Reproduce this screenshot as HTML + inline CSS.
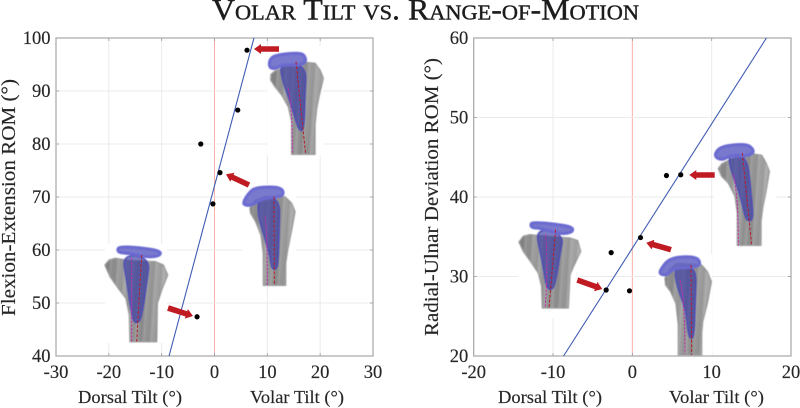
<!DOCTYPE html>
<html>
<head>
<meta charset="utf-8">
<style>
html,body{margin:0;padding:0;background:#fff;}
svg{display:block;}
text{font-family:"Liberation Serif",serif;fill:#262626;stroke:#262626;stroke-width:.15px;}
</style>
</head>
<body>
<svg id="chart" width="800" height="408" viewBox="0 0 800 408" xmlns="http://www.w3.org/2000/svg">
<defs>
<linearGradient id="boneFill" x1="0" x2="1" y1="0" y2="0">
<stop offset="0" stop-color="#7e7e7e"/><stop offset=".3" stop-color="#a0a0a0"/><stop offset=".6" stop-color="#8e8e8e"/><stop offset="1" stop-color="#acacac"/>
</linearGradient>
<pattern id="boneStreaks" width="23" height="60" patternUnits="userSpaceOnUse" patternTransform="rotate(4)">
<rect x="3" y="0" width="3" height="60" fill="#555" fill-opacity=".18"/>
<rect x="12" y="0" width="5" height="60" fill="#ddd" fill-opacity=".18"/>
</pattern>
<filter id="soft"><feGaussianBlur stdDeviation="1.5"/></filter>
</defs>
<rect width="800" height="408" fill="#fff"/>
<text x="212" y="19.5" font-size="30" textLength="427" lengthAdjust="spacingAndGlyphs" style="font-variant:small-caps;fill:#1c1c1c;stroke:#1c1c1c;stroke-width:.4px">Volar Tilt vs. Range-of-Motion</text>
<g id="left-layer"></g>
<g id="right-layer"></g>
</svg>
<script>
var SVGNS = 'http://www.w3.org/2000/svg';

// Left panel data
var leftVolarTilt = [6.15, 4.4, -2.6, 1.04, -0.3, -3.3];
var leftRom = [97.7, 86.4, 80, 74.6, 68.7, 47.4];
var leftFitX = [-8.6, 7.47];
var leftFitY = [40, 100];
var leftXTicks = [-30, -20, -10, 0, 10, 20, 30];
var leftYTicks = [40, 50, 60, 70, 80, 90, 100];

// Right panel data
var rightVolarTilt = [4.3, 6.1, 1.03, -2.67, -0.36, -3.3];
var rightRom = [42.7, 42.8, 34.9, 33.0, 28.2, 28.3];
var rightFitX = [-8.67, 16.9];
var rightFitY = [20, 60];
var rightXTicks = [-20, -10, 0, 10, 20];
var rightYTicks = [20, 30, 40, 50, 60];

function mk(tag, attrs, parent, text) {
  var el = document.createElementNS(SVGNS, tag);
  for (var k in attrs) el.setAttribute(k, attrs[k]);
  if (text !== undefined) el.textContent = text;
  parent.appendChild(el);
  return el;
}

function smooth(str) {
  var p = str.trim().split(/\s+/).map(function (s) { return s.split(',').map(Number); });
  var n = p.length, d = '';
  for (var i = 0; i < n; i++) {
    var a = p[i], b = p[(i + 1) % n];
    var mx = (a[0] + b[0]) / 2, my = (a[1] + b[1]) / 2;
    if (i === 0) {
      var z = p[n - 1];
      d += 'M' + (z[0] + a[0]) / 2 + ',' + (z[1] + a[1]) / 2;
    }
    d += ' Q' + a[0] + ',' + a[1] + ' ' + mx + ',' + my;
  }
  return d + ' Z';
}

function bone(parent, ox, oy, box, shapes) {
  var g = mk('g', {}, parent);
  
  
  mk('rect', {x: box[0], y: box[1], width: box[2], height: box[3], fill: '#fff'}, g);
  var t = mk('g', {transform: 'translate(' + ox + ' ' + oy + ') scale(0.3333)'}, g);
  var soft = mk('g', {filter: 'url(#soft)'}, t);
  mk('polygon', {points: shapes.bone, fill: 'url(#boneFill)', stroke: '#999', 'stroke-width': 4, 'stroke-linejoin': 'round'}, soft);
  mk('polygon', {points: shapes.bone, fill: 'url(#boneStreaks)'}, soft);
  mk('path', {d: smooth(shapes.stem), fill: '#3c3ca4', 'fill-opacity': .68, stroke: '#4a4ab8', 'stroke-width': 4}, soft);
  mk('path', {d: smooth(shapes.cap), fill: '#6060c4', 'fill-opacity': .85, stroke: '#6a6ad0', 'stroke-width': 9, 'stroke-linejoin': 'round'}, soft);
  mk('path', {d: shapes.magenta, fill: 'none', stroke: '#c030a8', 'stroke-width': 3, 'stroke-dasharray': '7 4'}, t);
  mk('path', {d: shapes.red, fill: 'none', stroke: '#b81c2c', 'stroke-width': 3, 'stroke-dasharray': '9 5'}, t);
}

function arrow(parent, x1, y1, x2, y2) {
  var dx = x2 - x1, dy = y2 - y1, len = Math.sqrt(dx * dx + dy * dy);
  var ux = dx / len, uy = dy / len, nx = -uy, ny = ux;
  var hw = 2.8, hh = 5, hl = 7;
  var bx = x2 - ux * hl, by = y2 - uy * hl;
  var pts = [
    [x1 + nx * hw, y1 + ny * hw], [bx + nx * hw, by + ny * hw], [bx + nx * hh, by + ny * hh],
    [x2, y2],
    [bx - nx * hh, by - ny * hh], [bx - nx * hw, by - ny * hw], [x1 - nx * hw, y1 - ny * hw]
  ].map(function (p) { return p[0].toFixed(1) + ',' + p[1].toFixed(1); }).join(' ');
  var a = mk('polygon', {points: pts, fill: '#c01a22'}, parent);
  
  
}

function panel(layer, cfg) {
  var L = cfg.left, R = cfg.right, T = 38, B = 356;
  var xMin = cfg.xTicks[0], xMax = cfg.xTicks[cfg.xTicks.length - 1];
  var yMin = cfg.yTicks[0], yMax = cfg.yTicks[cfg.yTicks.length - 1];
  function sx(v) { return L + (v - xMin) / (xMax - xMin) * (R - L); }
  function sy(v) { return B - (v - yMin) / (yMax - yMin) * (B - T); }

  cfg.xTicks.forEach(function (v) {
    if (v !== xMin && v !== xMax) {
      var gl = mk('line', {x1: sx(v), x2: sx(v), y1: T, y2: B, stroke: v === 0 ? '#f6b0a8' : '#ebebeb', 'stroke-width': 1}, layer);
      
      
      mk('line', {x1: sx(v), x2: sx(v), y1: T, y2: T + 3, stroke: '#999', 'stroke-width': .8}, layer);
      mk('line', {x1: sx(v), x2: sx(v), y1: B, y2: B - 3, stroke: '#999', 'stroke-width': .8}, layer);
    }
    var tl = mk('text', {x: sx(v), y: 378, 'font-size': 18.5, 'text-anchor': 'middle'}, layer, String(v));
    
    
  });
  cfg.yTicks.forEach(function (v) {
    if (v !== yMin && v !== yMax) {
      var gl = mk('line', {x1: L, x2: R, y1: sy(v), y2: sy(v), stroke: '#ebebeb', 'stroke-width': 1}, layer);
      
      
      mk('line', {x1: L, x2: L + 3, y1: sy(v), y2: sy(v), stroke: '#999', 'stroke-width': .8}, layer);
      mk('line', {x1: R, x2: R - 3, y1: sy(v), y2: sy(v), stroke: '#999', 'stroke-width': .8}, layer);
    }
    var tl = mk('text', {x: L - 5.5, y: sy(v) + 6, 'font-size': 18.5, 'text-anchor': 'end'}, layer, String(v));
    
    
  });

  cfg.bones.forEach(function (b) { bone(layer, b.ox, b.oy, b.box, b); });

  var frame = mk('rect', {x: L, y: T, width: R - L, height: B - T, fill: 'none', stroke: '#a6a6a6', 'stroke-width': 1.2}, layer);
  
  

  var fit = mk('line', {x1: sx(cfg.fitX[0]), y1: sy(cfg.fitY[0]), x2: sx(cfg.fitX[1]), y2: sy(cfg.fitY[1]), stroke: '#3f5cb4', 'stroke-width': 1.1}, layer);
  
  

  cfg.arrows.forEach(function (a) { arrow(layer, a[0], a[1], a[2], a[3]); });

  cfg.xs.forEach(function (v, i) {
    var pt = mk('circle', {cx: sx(v), cy: sy(cfg.ys[i]), r: 2.6, fill: '#000'}, layer);
    
    
  });

  var d = mk('text', {x: cfg.dorsal[0], y: 403, 'font-size': 18, textLength: cfg.dorsal[1], lengthAdjust: 'spacingAndGlyphs'}, layer, 'Dorsal Tilt (°)');
  
  
  var vt = mk('text', {x: cfg.volar[0], y: 403, 'font-size': 18, textLength: cfg.volar[1], lengthAdjust: 'spacingAndGlyphs'}, layer, 'Volar Tilt (°)');
  
  
  var yl = mk('text', {transform: 'translate(' + cfg.yLab[0] + ' ' + cfg.yLab[1] + ') rotate(-90)', 'font-size': 20, textLength: cfg.yLab[2], lengthAdjust: 'spacingAndGlyphs'}, layer, cfg.yTitle);
  
  
}

panel(document.getElementById('left-layer'), {
  left: 56, right: 373,
  xTicks: leftXTicks, yTicks: leftYTicks,
  xs: leftVolarTilt, ys: leftRom, fitX: leftFitX, fitY: leftFitY,
  dorsal: [78, 104], volar: [250, 94],
  yLab: [15, 316, 237], yTitle: 'Flexion-Extension ROM (°)',
  arrows: [[279, 49, 254, 49], [249, 185, 226, 174.3], [168, 308, 193, 316]],
  bones: [
    {ox: 260, oy: 45, box: [267, 46, 56, 110],
     bone: '33,88 45,78 80,65 135,52 165,55 180,75 190,100 178,150 170,190 165,240 165,328 95,328 95,230 85,185 65,150 45,125 32,105',
     cap: '28,45 45,30 125,22 138,40 135,55 110,62 70,58 45,72 28,68',
     stem: '58,55 140,60 135,150 133,255 118,258 108,230 90,170 68,110',
     magenta: 'M84,130 Q97,170 97,325', red: 'M108,50 L137,328'},
    {ox: 235, oy: 180, box: [242, 184, 54, 103],
     bone: '45,85 60,62 90,50 150,50 170,70 180,95 170,150 158,210 152,250 152,316 85,316 85,220 78,165 62,125 47,100',
     cap: '25,65 42,38 62,22 138,20 148,45 120,52 75,58 52,76 28,76',
     stem: '68,52 135,52 133,150 130,240 126,268 110,268 105,230 88,170 70,115',
     magenta: 'M90,110 Q97,150 97,315', red: 'M117,50 L118,315'},
    {ox: 100, oy: 240, box: [105, 244, 62, 99],
     bone: '15,75 28,60 45,55 90,62 165,65 190,75 203,105 185,150 172,190 170,305 90,305 88,225 78,175 55,145 30,110',
     cap: '52,30 58,20 110,22 182,32 180,48 140,52 85,40 58,38',
     stem: '66,42 150,55 142,120 125,235 112,250 100,245 90,195 80,125',
     magenta: 'M95,55 L95,305', red: 'M125,45 L110,305'}
  ]
});

panel(document.getElementById('right-layer'), {
  left: 473.7, right: 791,
  xTicks: rightXTicks, yTicks: rightYTicks,
  xs: rightVolarTilt, ys: rightRom, fitX: rightFitX, fitY: rightFitY,
  dorsal: [498, 104], volar: [669, 95],
  yLab: [438, 336, 278], yTitle: 'Radial-Ulnar Deviation ROM (°)',
  arrows: [[714.7, 175, 689.3, 175], [671, 249.7, 646.3, 242.7], [577.3, 280, 602.3, 289]],
  bones: [
    {ox: 710, oy: 138, box: [714, 140, 62, 108],
     bone: '25,92 35,78 60,65 130,48 155,52 168,75 178,100 168,160 158,210 153,250 153,322 82,322 82,225 75,175 55,135 35,115',
     cap: '15,45 35,24 110,17 131,35 128,48 100,56 62,52 38,66 18,60',
     stem: '52,50 112,50 125,180 130,240 118,252 105,240 90,170 65,105',
     magenta: 'M70,110 Q85,170 85,322', red: 'M97,45 L125,322'},
    {ox: 515, oy: 218, box: [518, 220, 62, 98],
     bone: '12,72 25,55 45,50 90,55 165,60 188,68 197,100 178,140 165,170 160,270 82,270 80,205 70,165 50,135 25,100',
     cap: '46,17 60,13 120,18 174,27 172,44 130,48 75,30 50,30',
     stem: '60,30 147,48 135,110 120,205 105,218 94,205 88,170 78,115',
     magenta: 'M92,50 Q100,160 90,270', red: 'M122,35 L102,270'},
    {ox: 650, oy: 250, box: [656, 254, 56, 102],
     bone: '45,85 60,58 80,40 155,45 172,65 184,95 172,160 158,215 155,250 155,315 85,315 85,225 78,160 62,125 47,105',
     cap: '30,60 60,22 140,19 153,44 130,52 72,54 52,76 30,73',
     stem: '72,48 140,48 136,150 133,255 124,268 114,255 108,180 80,110',
     magenta: 'M90,90 Q105,150 105,312', red: 'M123,45 L125,315'}
  ]
});
</script>
</body>
</html>
